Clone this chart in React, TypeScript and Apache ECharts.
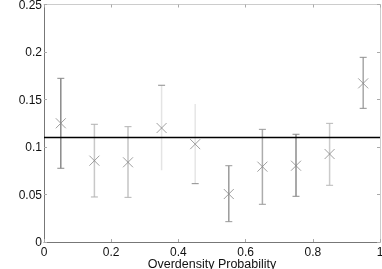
import React, { useEffect, useRef } from "react";
import * as echarts from "echarts";

const xCenters = [0.05, 0.15, 0.25, 0.35, 0.45, 0.55, 0.65, 0.75, 0.85, 0.95];
const yValues = [0.125, 0.0856, 0.0839, 0.12, 0.103, 0.0505, 0.0793, 0.0803, 0.0926, 0.167];
const yLow = [0.0776, 0.0474, 0.047, 0.0755, 0.0614, 0.0214, 0.0397, 0.0481, 0.0597, 0.1407];
const yHigh = [0.1723, 0.1239, 0.1214, 0.165, 0.1453, 0.0803, 0.1186, 0.1134, 0.1249, 0.1944];
const capTop = [true, true, true, true, false, true, true, true, true, true];
const capBottom = [true, true, true, false, true, true, true, true, true, true];
const refLine = 0.11;
const xTicks = [0, 0.2, 0.4, 0.6, 0.8, 1];
const yTicks = [0, 0.05, 0.1, 0.15, 0.2, 0.25];
const xLabel = "Overdensity Probability";

const barColors = ["#8a8a8a", "#c8c8c8", "#c4c4c4", "#e4e4e4", "#e6e6e6", "#9a9a9a", "#acacac", "#8c8c8c", "#cbcbcb", "#a8a8a8"];
const capColors = ["#8a8a8a", "#b0b0b0", "#b4b4b4", "#8c8c8c", "#8c8c8c", "#9a9a9a", "#999999", "#8c8c8c", "#b8b8b8", "#909090"];

export default function App() {
  const ref = useRef<HTMLDivElement>(null);
  useEffect(() => {
    if (!ref.current) return;
    const chart = echarts.init(ref.current, null, { renderer: "svg" });
    const font = "Liberation Sans, Arial, sans-serif";
    const errData = xCenters.map((x, i) => [x, yLow[i], yHigh[i], i]);
    const ptData = xCenters.map((x, i) => [x, yValues[i]]);
    chart.setOption({
      animation: false,
      grid: { left: 44, right: 2, top: 4.5, bottom: 27, containLabel: false, outerBoundsMode: "none" },
      xAxis: [
        {
          type: "value",
          min: xTicks[0],
          max: xTicks[xTicks.length - 1],
          interval: 0.2,
          name: xLabel,
          nameLocation: "middle",
          nameGap: 16,
          nameMoveOverlap: false,
          nameTextStyle: { fontFamily: font, fontSize: 12.5, lineHeight: 11, color: "#111" },
          axisLine: { show: true, onZero: false, lineStyle: { color: "#777", width: 1 } },
          axisTick: { show: true, inside: true, length: 3, lineStyle: { color: "#aaa" } },
          axisLabel: { fontFamily: font, fontSize: 12, lineHeight: 11, color: "#111", margin: 4, showMaxLabel: true, showMinLabel: true },
          splitLine: { show: false },
        },
        {
          type: "value",
          position: "top",
          min: 0,
          max: 1,
          interval: 0.2,
          axisLine: { show: true, onZero: false, lineStyle: { color: "#ccc", width: 1 } },
          axisTick: { show: true, inside: true, length: 3, lineStyle: { color: "#aaa" } },
          axisLabel: { show: false },
          splitLine: { show: false },
        },
      ],
      yAxis: [
        {
          type: "value",
          min: yTicks[0],
          max: yTicks[yTicks.length - 1],
          interval: 0.05,
          axisLine: { show: true, onZero: false, lineStyle: { color: "#777", width: 1 } },
          axisTick: { show: true, inside: true, length: 3, lineStyle: { color: "#aaa" } },
          axisLabel: { fontFamily: font, fontSize: 12, lineHeight: 9, color: "#111", margin: 2, showMaxLabel: true, showMinLabel: true },
          splitLine: { show: false },
        },
        {
          type: "value",
          position: "right",
          min: 0,
          max: 0.25,
          interval: 0.05,
          axisLine: { show: true, onZero: false, lineStyle: { color: "#ccc", width: 1 } },
          axisTick: { show: true, inside: true, length: 3, lineStyle: { color: "#aaa" } },
          axisLabel: { show: false },
          splitLine: { show: false },
        },
      ],
      series: [
        {
          type: "custom",
          data: errData,
          renderItem: (params: any, api: any) => {
            const x = api.value(0);
            const lo = api.value(1);
            const hi = api.value(2);
            const i = api.value(3);
            const pLo = api.coord([x, lo]);
            const pHi = api.coord([x, hi]);
            const cw = 3.5;
            const children: any[] = [
              {
                type: "line",
                shape: { x1: pLo[0], y1: pLo[1], x2: pHi[0], y2: pHi[1] },
                style: { stroke: barColors[i], lineWidth: 1.5 },
              },
            ];
            if (capTop[i]) {
              children.push({
                type: "line",
                shape: { x1: pHi[0] - cw, y1: pHi[1], x2: pHi[0] + cw, y2: pHi[1] },
                style: { stroke: capColors[i], lineWidth: 1 },
              });
            }
            if (capBottom[i]) {
              children.push({
                type: "line",
                shape: { x1: pLo[0] - cw, y1: pLo[1], x2: pLo[0] + cw, y2: pLo[1] },
                style: { stroke: capColors[i], lineWidth: 1 },
              });
            }
            return { type: "group", children };
          },
          z: 2,
        },
        {
          type: "line",
          data: [[xTicks[0], refLine], [xTicks[xTicks.length - 1], refLine]],
          symbol: "none",
          lineStyle: { color: "#000", width: 1.5 },
          z: 3,
        },
        {
          type: "scatter",
          data: ptData,
          symbol: "path://M0,0L10,10M10,0L0,10",
          symbolSize: 10,
          itemStyle: { color: "none", borderColor: "#888", borderWidth: 1 },
          z: 4,
        },
      ],
    });
    return () => chart.dispose();
  }, []);
  return <div ref={ref} style={{ position: "fixed", left: 0, top: 0, width: 382, height: 269 }} />;
}
